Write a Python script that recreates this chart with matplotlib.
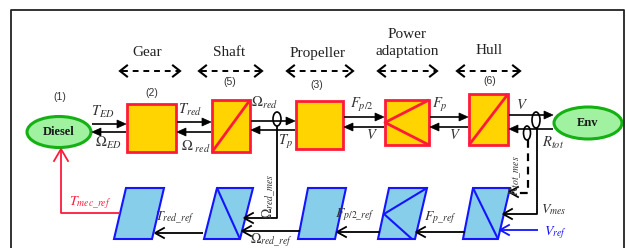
import numpy as np
import matplotlib.pyplot as plt
from matplotlib.patches import Rectangle, Polygon, Ellipse

plt.rcParams['mathtext.fontset'] = 'stix'
plt.rcParams['font.family'] = 'serif'
plt.rcParams['font.serif'] = ['Liberation Serif', 'DejaVu Serif']

# diagram content
section_names = ['Gear', 'Shaft', 'Propeller', 'Power\nadaptation', 'Hull']
block_numbers = ['(1)', '(2)', '(5)', '(3)', '(6)']
source_names = ['Diesel', 'Env']
action_labels = [r'$T_{ED}$', r'$T_{red}$', r'$\Omega_{red}$', r'$F_{p/2}$', r'$F_p$', r'$V$']
reaction_labels = [r'$\Omega_{ED}$', r'$\Omega_{\ red}$', r'$T_p$', r'$V$', r'$V$', r'$R_{tot}$']
control_labels = [r'$T_{mec\_ref}$', r'$T_{red\_ref}$', r'$\Omega_{red\_ref}$',
                  r'$F_{p/2\_ref}$', r'$F_{p\_ref}$', r'$V_{ref}$']
measure_labels = [r'$\Omega_{red\_mes}$', r'$R_{tot\_mes}$', r'$V_{mes}$']

YELLOW = '#ffd400'
RED = '#ff1a3a'
GREEN_E = '#14b014'
GREEN_F = '#a0f2a0'
BLUE_F = '#87ceeb'
BLUE_E = '#1414ff'
TXT = '#333333'

fig = plt.figure(figsize=(6.26, 2.48), dpi=100)
ax = fig.add_axes([0, 0, 1, 1])
ax.set_xlim(0, 626)
ax.set_ylim(248, 0)
ax.axis('off')


def line(xs, ys, c='k', lw=1.2, ls='-'):
    ax.plot(xs, ys, color=c, lw=lw, ls=ls, solid_capstyle='butt')


def filled_arrow(x0, x1, y, L=9, W=4):
    d = np.sign(x1 - x0)
    line([x0, x1 - d * L * 0.8], [y, y])
    ax.add_patch(Polygon([(x1, y), (x1 - d * L, y - W), (x1 - d * L, y + W)],
                         closed=True, fc='k', ec='k', lw=0.5))


def open_head(x, y, dx, dy, L=9, W=5, c='k', lw=1.3):
    px, py = -dy, dx
    ax.plot([x - dx * L + px * W, x, x - dx * L - px * W],
            [y - dy * L + py * W, y, y - dy * L - py * W],
            color=c, lw=lw, solid_joinstyle='miter')


def dashed_double(x0, x1, y):
    line([x0 + 2, x1 - 2], [y, y], lw=1.4, ls=(0, (3, 2.5)))
    open_head(x0, y, -1, 0, L=7, W=5.5, lw=1.5)
    open_head(x1, y, 1, 0, L=7, W=5.5, lw=1.5)


# frame
line([11, 11, 624, 624], [248, 10, 10, 248], c='#222222', lw=1.3)

# section headers
sec_x = [147, 229, 318, 407, 489]
sec_y = [53, 53, 53, 43, 50]
sec_arrows = [(120, 180), (199, 262), (287, 353), (378, 437), (457, 520)]
for name, x, y, (a0, a1) in zip(section_names, sec_x, sec_y, sec_arrows):
    ax.text(x, y, name, ha='center', va='center', fontsize=11, color='#222222',
            linespacing=1.35)
    dashed_double(a0, a1, 71)

num_pos = [(60, 97), (152, 93), (230, 82), (317, 85), (490, 81)]
for s, (x, y) in zip(block_numbers, num_pos):
    ax.text(x, y, s, ha='center', va='center', fontsize=7.5, color='#333333',
            family='Liberation Sans')

# sources
for name, (cx, cy, w, h) in zip(source_names, [(59, 132, 64, 31), (588, 123, 68, 32)]):
    ax.add_patch(Ellipse((cx, cy), w, h, fc=GREEN_F, ec=GREEN_E, lw=2.2))
    ax.text(cx, cy, name, ha='center', va='center', fontsize=9, weight='bold',
            color='#1a1a1a')

# upper red/yellow blocks
boxes = {'gear': (127, 104, 176, 152), 'shaft': (212, 100, 250, 152),
         'prop': (296, 101, 343, 149), 'power': (385, 100, 429, 145),
         'hull': (469, 94, 508, 145)}
for key, (x0, y0, x1, y1) in boxes.items():
    ax.add_patch(Rectangle((x0, y0), x1 - x0, y1 - y0, fc=YELLOW, ec=RED, lw=2.0))
x0, y0, x1, y1 = boxes['shaft']
line([x0, x1], [y1, y0], c=RED, lw=2.0)
x0, y0, x1, y1 = boxes['hull']
line([x0, x1], [y1, y0], c=RED, lw=2.0)
x0, y0, x1, y1 = boxes['power']
line([x1, x0, x1], [y0, (y0 + y1) / 2, y1], c=RED, lw=2.0)

# upper exchanges: (x_left, x_right, y_action, y_reaction)
links = [(91, 127, 124, 132), (176, 212, 122, 132), (250, 296, 121, 130),
         (343, 385, 117, 127), (429, 469, 117, 127), (508, 554, 115, 129)]
for xl, xr, ya, yr in links:
    filled_arrow(xl + 1, xr - 1, ya)
    filled_arrow(xr - 1, xl + 1, yr)

act_pos = [(103, 112), (190, 110), (265, 103), (362, 105), (440, 105), (522, 105)]
rea_pos = [(108, 143), (196, 147), (285, 142), (372, 135), (455, 135), (553, 143)]
for s, (x, y) in zip(action_labels, act_pos):
    ax.text(x, y, s, ha='center', va='center', fontsize=10.5, color=TXT)
for s, (x, y) in zip(reaction_labels, rea_pos):
    ax.text(x, y, s, ha='center', va='center', fontsize=10.5, color=TXT)

# sensors
ax.add_patch(Ellipse((277, 119), 8, 14, fc='none', ec='k', lw=1.2))
ax.add_patch(Ellipse((536, 120), 8, 16, fc='none', ec='k', lw=1.2))
ax.add_patch(Ellipse((527, 133), 7, 14, fc='none', ec='k', lw=1.2))

# lower blue control blocks: (top_left, top_right, bottom_left, bottom_right)
TOP, BOT = 188, 239
paras = [(126, 164, 114, 152), (217, 253, 204, 240), (308, 346, 298, 335),
         (389, 427, 378, 415), (473, 510, 463, 498)]
for tl, tr, bl, br in paras:
    ax.add_patch(Polygon([(tl, TOP), (tr, TOP), (br, BOT), (bl, BOT)], closed=True,
                         fc=BLUE_F, ec=BLUE_E, lw=1.5))
tl, tr, bl, br = paras[1]
line([tl, br], [TOP, BOT], c=BLUE_E, lw=1.5)
tl, tr, bl, br = paras[4]
line([tl, br], [TOP, BOT], c=BLUE_E, lw=1.5)
tl, tr, bl, br = paras[3]
line([tr, 384, 412], [TOP, 214, BOT], c=BLUE_E, lw=1.5)

# lower flows
line([203, 156], [233, 233], lw=1.3)
open_head(155, 233, -1, 0)
line([300, 243], [231, 231], lw=1.3)
open_head(242, 231, -1, 0)
line([380, 338], [232, 232], lw=1.3)
open_head(337, 232, -1, 0)
line([465, 417], [232, 232], lw=1.3)
open_head(416, 232, -1, 0)

# measurement lines
line([277, 277, 245], [126, 218, 218], lw=1.3)
open_head(244, 218, -1, 0)
line([537, 537, 504], [128, 214, 214], lw=1.3)
open_head(503, 214, -1, 0)
line([528, 528, 512], [140, 193, 193], lw=1.6, ls=(0, (3.5, 2.5)))
open_head(509, 192, -1, 0)

# reference speed
line([538, 501], [230, 230], c=BLUE_E, lw=1.3)
open_head(500, 230, -1, 0, c=BLUE_E)

# red torque reference to the engine
line([120, 61, 61], [213, 213, 150], c=RED, lw=1.3)
open_head(61, 149, 0, -1, L=12, W=7, c=RED, lw=1.3)

ctrl_pos = [(90, 203), (175, 218), (271, 240), (355, 215), (440, 218), (555, 233)]
ctrl_col = [RED, TXT, TXT, TXT, TXT, BLUE_E]
for s, (x, y), c in zip(control_labels, ctrl_pos, ctrl_col):
    ax.text(x, y, s, ha='center', va='center', fontsize=10, color=c)

ax.text(269, 196, measure_labels[0], ha='center', va='center', fontsize=10,
        color=TXT, rotation=90)
ax.text(516, 176, measure_labels[1], ha='center', va='center', fontsize=10,
        color=TXT, rotation=90)
ax.text(554, 210, measure_labels[2], ha='center', va='center', fontsize=10, color=TXT)

fig.savefig('out.png', dpi=100)
